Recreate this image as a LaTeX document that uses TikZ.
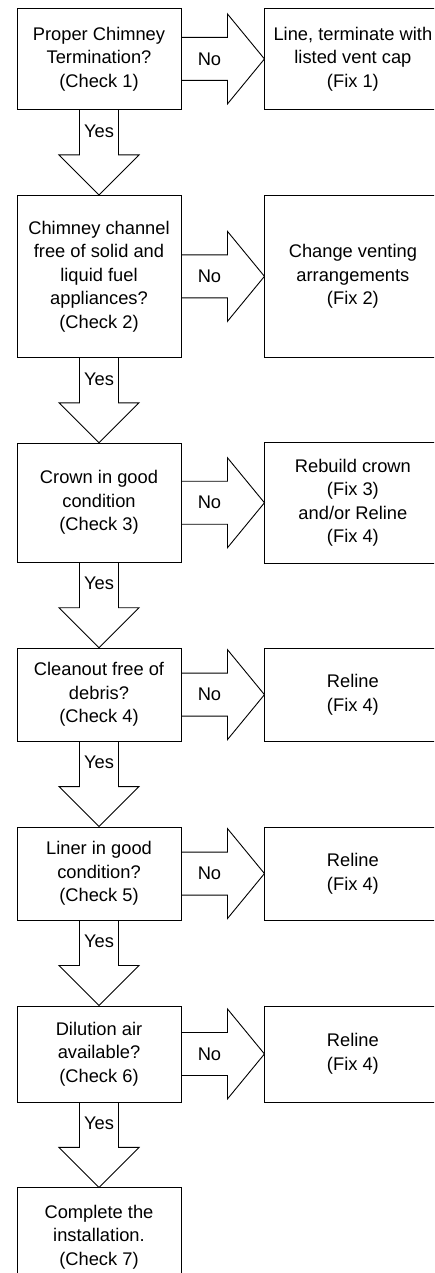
\documentclass[tikz,border=0pt]{standalone}
\usepackage{fontspec}
\setmainfont{Liberation Sans}
\usetikzlibrary{calc,positioning}

\begin{document}
\begin{tikzpicture}[x=1pt,y=1pt,%
    align=center,every node/.style={font=\fontsize{18.3}{23.5}\selectfont}]
    \tikzstyle{base}=[node distance=85pt and 83pt,draw=black,line width=0.9pt]
    \tikzstyle{check}=[base,rectangle,minimum width=164pt]
    \tikzstyle{fix}=[base,rectangle,minimum width=176pt]
    \tikzstyle{blockarrow}=[draw=black,line width=0.9pt,line join=miter]
    \useasboundingbox (0,0) rectangle (434,-1273);
    \clip (0,0) rectangle (434,-1273);
    % All checks
    \node (check1) [check,minimum height=101pt,anchor=north] at (99,-8)
          {Proper Chimney\\Termination?\\(Check 1)};
    \node (check2) [check,minimum height=162pt,below=of check1]
          {Chimney channel\\free of solid and\\liquid fuel\\appliances?\\(Check 2)};
    \node (check3) [check,minimum height=119pt,below=of check2]
          {Crown in good\\condition\\(Check 3)};
    \node (check4) [check,minimum height=93pt,below=of check3]
          {Cleanout free of\\debris?\\(Check 4)};
    \node (check5) [check,minimum height=93pt,below=of check4]
          {Liner in good\\condition?\\(Check 5)};
    \node (check6) [check,minimum height=96pt,below=of check5]
          {Dilution air\\available?\\(Check 6)};
    \node (check7) [check,minimum height=98pt,below=of check6]
          {Complete the\\installation.\\(Check 7)};
    % All fixes
    \node (fix1) [fix,minimum height=101pt,right=of check1]
          {Line, terminate with\\listed vent cap\\(Fix 1)};
    \node (fix2) [fix,minimum height=162pt,right=of check2]
          {Change venting\\arrangements\\(Fix 2)};
    \node (fix3) [fix,minimum height=121pt,right=of check3]
          {Rebuild crown\\(Fix 3)\\and/or Reline\\(Fix 4)};
    \node (fix4) [fix,minimum height=93pt,right=of check4]   {Reline\\(Fix 4)};
    \node (fix5) [fix,minimum height=93pt,right=of check5]   {Reline\\(Fix 4)};
    \node (fix6) [fix,minimum height=96pt,right=of check6]   {Reline\\(Fix 4)};
    % Edges
    \foreach \a/\b in {check1/check2,check2/check3,check3/check4,check4/check5,check5/check6,check6/check7}
      \draw [blockarrow] let \p1=(\a.south), \p2=(\b.north) in
        (\x1-19.5,\y1) -- (\x1-19.5,\y2+40) -- (\x1-40,\y2+40) -- (\x1,\y2)
        -- (\x1+40,\y2+40) -- (\x1+19.5,\y2+40) -- (\x1+19.5,\y1)
        node at (\x1,\y1-21) {Yes};
    \foreach \a/\b in {check1/fix1,check2/fix2,check3/fix3,check4/fix4,check5/fix5,check6/fix6}
      \draw [blockarrow] let \p1=(\a.east), \p2=(\b.west) in
        (\x1,\y1+21.5) -- (\x2-37,\y1+21.5) -- (\x2-37,\y1+45) -- (\x2,\y1)
        -- (\x2-37,\y1-45) -- (\x2-37,\y1-21.5) -- (\x1,\y1-21.5)
        node at (\x1+28,\y1) {No};
\end{tikzpicture}
\end{document}
